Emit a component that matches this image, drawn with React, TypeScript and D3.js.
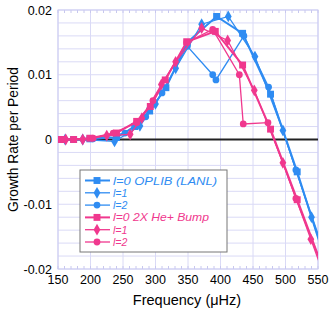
import React, { useEffect, useRef } from 'react';
import * as d3 from 'd3';

// frequency (uHz), growth rate per period
const blueL0 = [[153, 0], [174, 0], [199, 0.0001], [240, 0.0003], [268, 0.002], [291, 0.0044], [316, 0.008], [349, 0.015], [394, 0.019], [434, 0.0164], [477, 0.007], [518, -0.005], [560, -0.0183]];
const blueL1 = [[161, 0], [188, 0], [237, -0.0003], [276, 0.0021], [300, 0.0055], [331, 0.011], [371, 0.0178], [412, 0.019], [453, 0.0128], [496, 0.0014], [540, -0.012], [560, -0.018]];
const blueL2 = [[158, 0], [204, 0.0001], [253, 0.001], [285, 0.0035], [310, 0.0072], [349, 0.0144], [388, 0.01], [393, 0.0092], [436, 0.016], [474, 0.0081], [516, -0.0047], [560, -0.0175]];
const pinkL0 = [[155, 0], [174, 0], [199, 0.0002], [240, 0.001], [271, 0.0028], [292, 0.0051], [315, 0.0092], [348, 0.0151], [392, 0.0167], [434, 0.0115], [477, 0.0016], [518, -0.0093], [560, -0.0205]];
const pinkL1 = [[162, 0], [188, 0], [225, 0.0006], [261, 0.0008], [279, 0.0033], [309, 0.0085], [331, 0.012], [371, 0.0172], [411, 0.0153], [452, 0.0076], [496, -0.0036], [539, -0.0154], [560, -0.0212]];
const pinkL2 = [[158, 0], [204, 0.0002], [235, 0.001], [271, 0.0026], [296, 0.006], [348, 0.015], [388, 0.017], [429, 0.01], [435, 0.0024], [473, 0.0026], [516, -0.0091], [560, -0.0205]];

const xTicks = [150, 200, 250, 300, 350, 400, 450, 500, 550];
const yTicks = [0.02, 0.01, 0, -0.01, -0.02];
const yTickLabels = ['0.02', '0.01', '0', '-0.01', '-0.02'];

const BLUE = '#2f8cf2';
const PINK = '#f0388e';

const series = [
  { label: 'l=0 OPLIB (LANL)', data: blueL0, color: BLUE, marker: 'square', width: 2, textW: 104 },
  { label: 'l=1', data: blueL1, color: BLUE, marker: 'diamond', width: 1.3, textW: 0 },
  { label: 'l=2', data: blueL2, color: BLUE, marker: 'circle', width: 1.3, textW: 0 },
  { label: 'l=0 2X He+ Bump', data: pinkL0, color: PINK, marker: 'square', width: 2, textW: 96 },
  { label: 'l=1', data: pinkL1, color: PINK, marker: 'diamond', width: 1.3, textW: 0 },
  { label: 'l=2', data: pinkL2, color: PINK, marker: 'circle', width: 1.3, textW: 0 },
];

const symbolFor = (m: string) =>
  m === 'square' ? d3.symbol(d3.symbolSquare, 48) : m === 'diamond' ? d3.symbol(d3.symbolDiamond, 40) : d3.symbol(d3.symbolCircle, 36);

export default function App() {
  const svgRef = useRef<SVGSVGElement>(null);

  useEffect(() => {
    const svg = d3.select(svgRef.current);
    svg.selectAll('*').remove();
    const left = 58, right = 318, top = 10, bottom = 269;
    const x = d3.scaleLinear().domain([150, 550]).range([left, right]);
    const y = d3.scaleLinear().domain([-0.02, 0.02]).range([bottom, top]);
    const font = 'Liberation Sans, Arial, sans-serif';

    svg.append('defs').append('clipPath').attr('id', 'plotclip')
      .append('rect').attr('x', left).attr('y', top).attr('width', right - left).attr('height', bottom - top);

    // grid
    const grid = svg.append('g');
    grid.selectAll('.vg').data(d3.range(150, 551, 50)).enter().append('line')
      .attr('x1', (d) => x(d)).attr('x2', (d) => x(d)).attr('y1', top).attr('y2', bottom)
      .attr('stroke', '#dadaf6').attr('stroke-width', 1);
    grid.selectAll('.hg').data(d3.range(-0.02, 0.0201, 0.002)).enter().append('line')
      .attr('x1', left).attr('x2', right).attr('y1', (d) => y(d)).attr('y2', (d) => y(d))
      .attr('stroke', '#dadaf6').attr('stroke-width', 1);
    // minor ticks top & bottom
    const minor = d3.range(150, 551, 10);
    grid.selectAll('.tt').data(minor).enter().append('line')
      .attr('x1', (d) => x(d)).attr('x2', (d) => x(d)).attr('y1', top).attr('y2', top + 3)
      .attr('stroke', '#c8c8ee');
    grid.selectAll('.tb').data(minor).enter().append('line')
      .attr('x1', (d) => x(d)).attr('x2', (d) => x(d)).attr('y1', bottom).attr('y2', bottom - 3)
      .attr('stroke', '#c8c8ee');
    svg.append('rect').attr('x', left).attr('y', top).attr('width', right - left).attr('height', bottom - top)
      .attr('fill', 'none').attr('stroke', '#cbcbf2').attr('stroke-width', 1);

    // zero line
    svg.append('line').attr('x1', left).attr('x2', right).attr('y1', y(0)).attr('y2', y(0))
      .attr('stroke', '#222').attr('stroke-width', 2);

    // tick labels
    svg.selectAll('.xt').data(xTicks).enter().append('text')
      .attr('x', (d) => x(d)).attr('y', 284).attr('text-anchor', 'middle')
      .attr('font-family', font).attr('font-size', 12.5).text((d) => d);
    svg.selectAll('.yt').data(yTicks).enter().append('text')
      .attr('x', 52).attr('y', (d) => y(d) + 4.5).attr('text-anchor', 'end')
      .attr('font-family', font).attr('font-size', 12.5).text((d, i) => yTickLabels[i]);

    svg.append('text').attr('x', (left + right) / 2 - 1).attr('y', 305).attr('text-anchor', 'middle')
      .attr('font-family', font).attr('font-size', 14.5).text('Frequency (\u03bcHz)');
    svg.append('text').attr('transform', `translate(18,${(top + bottom) / 2}) rotate(-90)`)
      .attr('text-anchor', 'middle').attr('font-family', font).attr('font-size', 13.8)
      .text('Growth Rate per Period');

    // series
    const line = d3.line<number[]>().x((d) => x(d[0])).y((d) => y(d[1]));
    const plot = svg.append('g').attr('clip-path', 'url(#plotclip)');
    series.forEach((s) => {
      plot.append('path').attr('d', line(s.data)).attr('fill', 'none')
        .attr('stroke', s.color).attr('stroke-width', s.width);
      plot.selectAll(null).data(s.data).enter().append('path')
        .attr('d', symbolFor(s.marker)())
        .attr('transform', (d) => `translate(${x(d[0])},${y(d[1])})`)
        .attr('fill', s.color);
    });

    // legend
    const lg = svg.append('g');
    lg.append('rect').attr('x', 80).attr('y', 170).attr('width', 147).attr('height', 82)
      .attr('fill', 'white').attr('stroke', '#777').attr('stroke-width', 1);
    series.forEach((s, i) => {
      const ly = 180.5 + i * 12.3;
      lg.append('line').attr('x1', 85).attr('x2', 110).attr('y1', ly).attr('y2', ly)
        .attr('stroke', s.color).attr('stroke-width', s.width);
      lg.append('path').attr('d', symbolFor(s.marker)()).attr('transform', `translate(97,${ly})`)
        .attr('fill', s.color);
      const t = lg.append('text').attr('x', 113).attr('y', ly + 4).attr('font-family', font)
        .attr('font-size', 10.6).attr('font-style', 'italic').attr('fill', s.color)
        .text(s.label);
      if (s.textW) t.attr('textLength', s.textW).attr('lengthAdjust', 'spacingAndGlyphs');
    });
  }, []);

  return (
    <svg ref={svgRef} width={332} height={314} style={{ position: 'absolute', left: 0, top: 0, background: 'white' }} />
  );
}
